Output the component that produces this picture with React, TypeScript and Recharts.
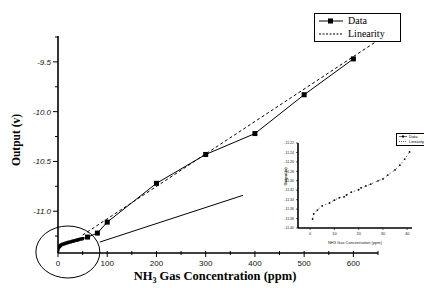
import { ComposedChart, LineChart, Line, XAxis, YAxis, Legend, ReferenceDot, ReferenceLine, Label } from 'recharts';

// main curve: NH3 concentration (ppm) vs output (V)
const concentration = [0, 1, 2, 3, 4, 5, 6, 8, 10, 12, 14, 16, 18, 20, 22, 25, 28, 30, 32, 35, 38, 40, 42, 45, 48, 50, 60, 80, 100, 200, 300, 400, 500, 600];
const output = [-11.39, -11.37, -11.36, -11.355, -11.35, -11.345, -11.34, -11.335, -11.33, -11.33, -11.325, -11.32, -11.32, -11.315, -11.31, -11.31, -11.305, -11.3, -11.3, -11.295, -11.29, -11.29, -11.285, -11.28, -11.28, -11.275, -11.26, -11.22, -11.11, -10.72, -10.43, -10.22, -9.83, -9.47];

// linear fit
const fitConcentration = [50, 645];
const fitOutput = [-11.24, -9.3];

// inset (low concentration zoom)
const insetConcentration = [1, 1.5, 3, 5, 8, 10, 12, 14, 15, 17, 20, 21, 23, 25, 28, 30, 32, 35, 37, 39, 41];
const insetOutput = [-11.381, -11.37, -11.362, -11.353, -11.347, -11.341, -11.336, -11.334, -11.33, -11.324, -11.319, -11.315, -11.311, -11.307, -11.3, -11.296, -11.288, -11.277, -11.267, -11.254, -11.239];

const xTicks = [0, 50, 100, 150, 200, 250, 300, 350, 400, 450, 500, 550, 600, 650];
const xMajor = [0, 100, 200, 300, 400, 500, 600];
const yTicks = [-11.25, -11.0, -10.75, -10.5, -10.25, -10.0, -9.75, -9.5, -9.25];
const yMajor = [-11.0, -10.5, -10.0, -9.5];
const insetXTicks = [0, 10, 20, 30, 40];
const insetYTicks = [-11.4, -11.38, -11.36, -11.34, -11.32, -11.3, -11.28, -11.26, -11.24, -11.22];
const seriesNames = ['Data', 'Linearity'];

const dataRows = concentration.map((c, i) => ({ c, v: output[i] }));
const fitRows = fitConcentration.map((c, i) => ({ c, v: fitOutput[i] }));
const insetRows = insetConcentration.map((c, i) => ({ c, v: insetOutput[i] }));

const serif = '"Liberation Serif", "Times New Roman", serif';
const sans = '"Liberation Sans", Arial, sans-serif';

const YTick = ({ x, y, payload }: any) => {
  const major = yMajor.includes(payload.value);
  return (
    <g>
      <line x1={x - (major ? 5 : 3)} x2={x} y1={y} y2={y} stroke="#000" strokeWidth={1} />
      {major && (
        <text x={x - 7} y={y + 3} textAnchor="end" fontSize={8} fontStyle="italic" fontFamily={sans} fill="#111">
          {payload.value.toFixed(1)}
        </text>
      )}
    </g>
  );
};

const XTick = ({ x, y, payload }: any) => {
  const major = xMajor.includes(payload.value);
  return (
    <g>
      <line x1={x} x2={x} y1={y - 2} y2={y + (major ? 4 : 2)} stroke="#000" strokeWidth={1} />
      {major && (
        <text x={x} y={y + 13} textAnchor="middle" fontSize={8} fontFamily={sans} fill="#111">
          {payload.value}
        </text>
      )}
    </g>
  );
};

const SquareDot = ({ cx, cy, payload, index }: any) => {
  const s = payload.c >= 60 ? 5 : 3;
  return <rect key={index} x={cx - s / 2} y={cy - s / 2} width={s} height={s} fill="#000" />;
};

const MainLegend = () => (
  <div style={{ width: 85, height: 27, border: '1px solid #000', background: '#fff', fontFamily: serif, fontSize: 10, color: '#000' }}>
    {seriesNames.map((name, i) => (
      <div key={name} style={{ display: 'flex', alignItems: 'center', height: 13 }}>
        <svg width={30} height={10}>
          <line x1={4} x2={28} y1={5} y2={5} stroke="#000" strokeWidth={1} strokeDasharray={i === 0 ? undefined : '2 1.5'} />
          {i === 0 && <rect x={13} y={2.5} width={5} height={5} fill="#000" />}
        </svg>
        <span style={{ marginLeft: 3 }}>{name}</span>
      </div>
    ))}
  </div>
);

const InsetLegend = () => (
  <div style={{ width: 40, height: 11, border: '1px solid #000', background: '#fff', fontFamily: sans, fontSize: 4, lineHeight: '5px', color: '#000' }}>
    {seriesNames.map((name, i) => (
      <div key={name} style={{ display: 'flex', alignItems: 'center', height: 5 }}>
        <svg width={12} height={5}>
          <line x1={2} x2={10} y1={2.5} y2={2.5} stroke="#000" strokeWidth={0.6} strokeDasharray={i === 0 ? undefined : '1 1'} />
          {i === 0 && <rect x={5} y={1.5} width={2} height={2} fill="#000" />}
        </svg>
        <span>{name}</span>
      </div>
    ))}
  </div>
);

const XTitle = ({ viewBox }: any) => (
  <text x={viewBox.x + viewBox.width / 2 - 3} y={viewBox.y + 27} textAnchor="middle" fontFamily={serif} fontWeight="bold" fontSize={12.5} fill="#000">
    NH<tspan fontSize={8} dy={3}>3</tspan>
    <tspan dy={-3}> Gas Concentration (ppm)</tspan>
  </text>
);

const YTitle = ({ viewBox }: any) => (
  <text x={16} y={viewBox.y + 104} transform={`rotate(-90 16 ${viewBox.y + 104})`} textAnchor="middle" dominantBaseline="central" fontFamily={serif} fontWeight="bold" fontSize={11.5} fill="#000">
    Output (v)
  </text>
);

export default function App() {
  return (
    <div style={{ position: 'absolute', left: 0, top: 0, width: 424, height: 288, background: '#fff', overflow: 'hidden' }}>
      <ComposedChart width={424} height={288} margin={{ top: 36, right: 46, bottom: 15, left: 18 }}>
        <XAxis type="number" dataKey="c" domain={[0, 650]} ticks={xTicks} interval={0} allowDataOverflow
          axisLine={{ stroke: '#000', strokeWidth: 1.6 }} tickLine={false} tickSize={0} tickMargin={0} tick={<XTick />} height={20}>
          <Label content={<XTitle />} />
        </XAxis>
        <YAxis type="number" domain={[-11.42, -9.24]} ticks={yTicks} interval={0} allowDataOverflow width={40}
          axisLine={{ stroke: '#000', strokeWidth: 1.6 }} tickLine={false} tickSize={0} tickMargin={0} tick={<YTick />}>
          <Label content={<YTitle />} />
        </YAxis>
        <Legend layout="vertical" align="center" verticalAlign="middle" content={<MainLegend />}
          wrapperStyle={{ position: 'absolute', left: 314, top: 13, width: 87, height: 29 }} />
        <Line data={fitRows} dataKey="v" name="Linearity" stroke="#000" strokeWidth={1} strokeDasharray="3 2.5" dot={false} isAnimationActive={false} />
        <Line data={dataRows} dataKey="v" name="Data" stroke="#000" strokeWidth={1} dot={<SquareDot />} isAnimationActive={false} />
        <ReferenceDot x={20} y={-11.41} ifOverflow="visible"
          shape={(p: any) => <ellipse cx={p.cx} cy={p.cy} rx={32} ry={26} fill="none" stroke="#000" strokeWidth={1} />} />
        <ReferenceLine segment={[{ x: 85, y: -11.31 }, { x: 376, y: -10.84 }]} stroke="#000" strokeWidth={1} ifOverflow="visible" />
      </ComposedChart>

      <div style={{ position: 'absolute', left: 280, top: 128 }}>
        <LineChart width={144} height={118} data={insetRows} margin={{ top: 15, right: 12, bottom: 8, left: 4 }}>
          <XAxis type="number" dataKey="c" domain={[-5, 42]} ticks={insetXTicks} interval={0} allowDataOverflow height={10}
            axisLine={{ stroke: '#000', strokeWidth: 1.6 }} tickSize={2} tickLine={{ stroke: '#000', strokeWidth: 0.6 }}
            tick={{ fontSize: 4, fontFamily: sans, fill: '#222' }}>
            <Label value="NH3 Gas Concentration (ppm)" position="insideBottom" offset={-6} fontSize={4} fontFamily={sans} fill="#222" />
          </XAxis>
          <YAxis type="number" domain={[-11.4, -11.22]} ticks={insetYTicks} interval={0} allowDataOverflow width={14}
            axisLine={{ stroke: '#000', strokeWidth: 1.6 }} tickSize={2} tickLine={{ stroke: '#000', strokeWidth: 0.6 }}
            tick={{ fontSize: 3.5, fontFamily: sans, fill: '#222' }} tickFormatter={(v: number) => v.toFixed(2)}>
            <Label value="Output (v)" angle={-90} position="insideLeft" offset={2} fontSize={4} fontWeight="bold" fontFamily={serif} fill="#000" />
          </YAxis>
          <Legend layout="vertical" align="center" verticalAlign="middle" content={<InsetLegend />}
            wrapperStyle={{ position: 'absolute', left: 116, top: 5, width: 42, height: 13 }} />
          <Line dataKey="v" stroke="#333" strokeWidth={0.7} strokeDasharray="1.5 2.5"
            dot={{ r: 0.9, fill: '#000', stroke: 'none' }} isAnimationActive={false} />
        </LineChart>
      </div>
    </div>
  );
}
